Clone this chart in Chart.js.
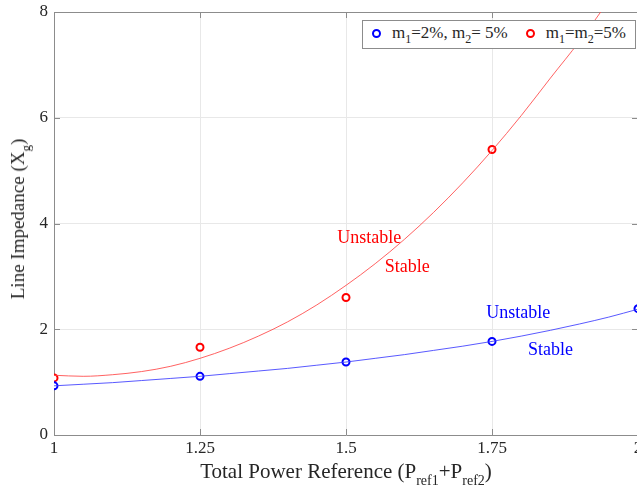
<!DOCTYPE html>
<html>
<head>
<meta charset="utf-8">
<script src="https://cdn.jsdelivr.net/npm/chart.js@4/dist/chart.umd.min.js"></script>
<style>
  html, body { margin:0; padding:0; background:#fff; overflow:hidden; }
  #wrap { position:relative; width:637px; height:497px; overflow:hidden; }
  canvas { position:absolute; left:0; top:0; }
  .serif { font-family: "Liberation Serif", "DejaVu Serif", serif; color:#262626; }
  #legend { position:absolute; left:362px; top:20px; width:272px; height:27px; border:1px solid #8c8c8c; background:#fff;
            font-size:17px; line-height:24px; white-space:nowrap; box-sizing:content-box; }
  #legend .mk { display:inline-block; width:5px; height:5px; border:2px solid; border-radius:50%; vertical-align:middle; margin:0 11px 2px 9px; }
  #legend sub { font-size:12px; vertical-align:-5px; line-height:0; }
  #xtitle { position:absolute; left:0; width:692px; top:459px; text-align:center; font-size:21px; white-space:nowrap; }
  #xtitle sub { font-size:14px; vertical-align:-7px; line-height:0; }
  #ytitle { position:absolute; left:18px; top:219px; transform:translate(-50%,-50%) rotate(-90deg); font-size:19px; white-space:nowrap; }
  #ytitle sub { font-size:13px; vertical-align:-6px; line-height:0; }
</style>
</head>
<body>
<div id="wrap">
  <canvas id="c" width="644" height="497"></canvas>
  <div id="legend" class="serif"><span class="mk" style="border-color:#0000ff;margin-left:9px"></span>m<sub>1</sub>=2%, m<sub>2</sub>= 5%<span class="mk" style="border-color:#ff0000;margin-left:18px"></span>m<sub>1</sub>=m<sub>2</sub>=5%</div>
  <div id="xtitle" class="serif">Total Power Reference (P<sub>ref1</sub>+P<sub>ref2</sub>)</div>
  <div id="ytitle" class="serif">Line Impedance (X<sub>g</sub>)</div>
</div>
<script>
// ---- data ----
const xTickLabels = ['1', '1.25', '1.5', '1.75', '2'];
const yTickLabels = ['0', '2', '4', '6', '8'];
const xPoints   = [1, 1.25, 1.5, 1.75, 2];
const bluePts   = [0.93, 1.11, 1.38, 1.77, 2.39];
const redPts    = [1.08, 1.66, 2.60, 5.40, null];
const xCurve    = [1, 1.05, 1.1, 1.15, 1.2, 1.25, 1.3, 1.35, 1.4, 1.45, 1.5, 1.55, 1.6, 1.65, 1.7, 1.75, 1.8, 1.85, 1.9, 1.95, 2];
const blueCurve = [0.93, 0.96, 0.99, 1.03, 1.07, 1.11, 1.16, 1.21, 1.26, 1.32, 1.38, 1.45, 1.52, 1.60, 1.68, 1.77, 1.87, 1.98, 2.10, 2.23, 2.38];
const redCurve  = [1.13, 1.11, 1.14, 1.20, 1.30, 1.45, 1.64, 1.87, 2.14, 2.46, 2.83, 3.24, 3.70, 4.21, 4.77, 5.38, 6.04, 6.75, 7.45, 8.22, 9.05];
const annotations = [
  { text: 'Unstable', x: 1.54,  y: 3.72, color: '#ff0000' },
  { text: 'Stable',   x: 1.605, y: 3.17, color: '#ff0000' },
  { text: 'Unstable', x: 1.795, y: 2.30, color: '#0000ff' },
  { text: 'Stable',   x: 1.85,  y: 1.60, color: '#0000ff' }
];

const pairs = (xs, ys) => xs.map((x, i) => ({ x: x, y: ys[i] }));
const FONT = '"Liberation Serif", "DejaVu Serif", serif';

const frame = {
  id: 'frame',
  beforeDatasetsDraw(chart) {
    const { ctx, chartArea: a, scales: { x, y } } = chart;
    ctx.save();
    ctx.strokeStyle = '#8c8c8c';
    ctx.lineWidth = 1;
    ctx.beginPath();
    ctx.moveTo(a.left, a.top + 0.5); ctx.lineTo(a.right, a.top + 0.5);
    const L = 6;
    x.ticks.forEach(t => {
      const px = Math.round(x.getPixelForValue(t.value)) + 0.5;
      ctx.moveTo(px, a.bottom); ctx.lineTo(px, a.bottom - L);
      ctx.moveTo(px, a.top); ctx.lineTo(px, a.top + L);
    });
    y.ticks.forEach(t => {
      const py = Math.round(y.getPixelForValue(t.value)) + 0.5;
      ctx.moveTo(a.left, py); ctx.lineTo(a.left + L, py);
      ctx.moveTo(a.right, py); ctx.lineTo(a.right - L, py);
    });
    ctx.stroke();
    ctx.restore();
  },
  afterDatasetsDraw(chart) {
    const { ctx, scales: { x, y } } = chart;
    ctx.save();
    ctx.font = '18px ' + FONT;
    ctx.textAlign = 'center';
    ctx.textBaseline = 'middle';
    annotations.forEach(an => {
      ctx.fillStyle = an.color;
      ctx.fillText(an.text, x.getPixelForValue(an.x), y.getPixelForValue(an.y));
    });
    ctx.restore();
  }
};

new Chart(document.getElementById('c'), {
  type: 'scatter',
  data: {
    datasets: [
      { label: 'blue fit', data: pairs(xCurve, blueCurve), showLine: true, pointRadius: 0, borderColor: 'rgba(60,60,255,0.85)', borderWidth: 1, cubicInterpolationMode: 'monotone' },
      { label: 'red fit',  data: pairs(xCurve, redCurve),  showLine: true, pointRadius: 0, borderColor: 'rgba(255,70,70,0.85)', borderWidth: 1, cubicInterpolationMode: 'monotone' },
      { label: 'm1=2%, m2= 5%', data: pairs(xPoints, bluePts), pointRadius: 3.5, pointBorderWidth: 2, borderColor: '#0000ff', backgroundColor: '#ffffff', pointStyle: 'circle' },
      { label: 'm1=m2=5%',      data: pairs(xPoints, redPts),  pointRadius: 3.5, pointBorderWidth: 2, borderColor: '#ff0000', backgroundColor: '#ffffff', pointStyle: 'circle' }
    ]
  },
  options: {
    responsive: false,
    animation: false,
    clip: { left: 0, top: 0, right: 10, bottom: 0 },
    layout: { padding: { top: 12, right: 0, left: 0, bottom: 0 } },
    plugins: { legend: { display: false }, tooltip: { enabled: false } },
    scales: {
      x: {
        type: 'linear', min: 1, max: 2,
        afterBuildTicks: s => { s.ticks = xTickLabels.map(v => ({ value: parseFloat(v) })); },
        ticks: { callback: (v, i) => xTickLabels[i], color: '#262626', font: { family: FONT, size: 17 }, padding: 3, maxRotation: 0 },
        grid: { color: '#e8e8e8', drawTicks: false },
        border: { color: '#8c8c8c' },
        afterFit: s => { s.height = 62; s.paddingLeft = 0; s.paddingRight = 0; }
      },
      y: {
        type: 'linear', min: 0, max: 8,
        afterBuildTicks: s => { s.ticks = yTickLabels.map(v => ({ value: parseFloat(v) })); },
        ticks: { callback: (v, i) => yTickLabels[i], color: '#262626', font: { family: FONT, size: 17 }, padding: 6 },
        grid: { color: '#e8e8e8', drawTicks: false },
        border: { color: '#8c8c8c' },
        afterFit: s => { s.width = 54; s.paddingTop = 0; s.paddingBottom = 0; }
      }
    }
  },
  plugins: [frame]
});
</script>
</body>
</html>
